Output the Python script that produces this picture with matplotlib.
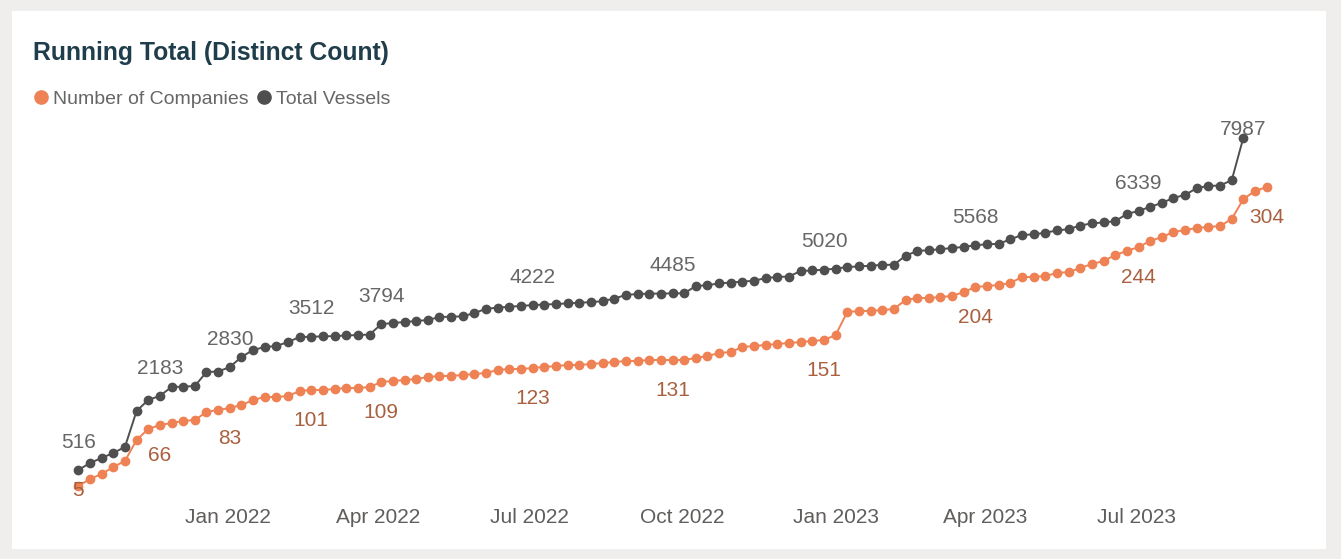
import numpy as np
import pandas as pd
import matplotlib
matplotlib.use('Agg')
import matplotlib.pyplot as plt
from matplotlib.lines import Line2D
from matplotlib.patches import Rectangle

plt.rcParams['font.family'] = ['Liberation Sans', 'DejaVu Sans']

# weekly running totals
weeks = pd.date_range('2021-10-03', periods=103, freq='7D')

companies = [5, 12, 17, 24, 30, 51, 62, 66, 68, 70, 71, 79, 81, 83, 86, 91, 94, 94, 95, 100,
             101, 101, 102, 103, 103, 104, 109, 110, 111, 112, 114, 115, 115, 116, 117, 118, 121, 122, 122, 123,
             124, 125, 126, 126, 127, 128, 129, 130, 130, 131, 131, 131, 131, 133, 135, 138, 139, 144, 145, 146,
             147, 148, 149, 150, 151, 156, 179, 180, 180, 181, 182, 191, 193, 193, 194, 195, 199, 204, 205, 206,
             208, 214, 214, 215, 218, 219, 223, 227, 230, 236, 240, 244, 250, 254, 259, 261, 263, 264, 265, 272,
             292, 300, 304]

vessels = [516, 674, 787, 899, 1034, 1843, 2090, 2183, 2382, 2390, 2404, 2719, 2730, 2830, 3056, 3213, 3281, 3303, 3393, 3506,
           3512, 3520, 3526, 3540, 3550, 3560, 3794, 3820, 3843, 3865, 3888, 3955, 3962, 3970, 4045, 4140, 4165, 4185, 4205, 4222,
           4235, 4245, 4262, 4275, 4290, 4310, 4370, 4450, 4472, 4480, 4482, 4485, 4488, 4650, 4670, 4710, 4730, 4750, 4770, 4830,
           4855, 4865, 4990, 5000, 5020, 5040, 5080, 5090, 5110, 5125, 5130, 5330, 5440, 5455, 5480, 5505, 5530, 5568, 5590, 5600,
           5700, 5800, 5810, 5850, 5900, 5930, 6010, 6060, 6080, 6110, 6270, 6339, 6430, 6520, 6630, 6700, 6850, 6900, 6910, 7030,
           7987]

# which points carry a data label
company_labels = [0, 7, 13, 20, 26, 39, 51, 64, 77, 91, 102]
vessel_labels = [0, 7, 13, 20, 26, 39, 51, 64, 77, 91, 100]

tick_dates = ['2022-01-01', '2022-04-01', '2022-07-01', '2022-10-01', '2023-01-01', '2023-04-01', '2023-07-01']
tick_labels = ['Jan 2022', 'Apr 2022', 'Jul 2022', 'Oct 2022', 'Jan 2023', 'Apr 2023', 'Jul 2023']

orange = '#ee8254'
gray = '#4f4f4f'

W, H = 1341, 559
fig = plt.figure(figsize=(W / 100, H / 100), dpi=100)
fig.patch.set_facecolor('#efeeec')
fig.patches.append(Rectangle((12 / W, 10 / H), 1314 / W, 538 / H, transform=fig.transFigure,
                             facecolor='white', edgecolor='none', zorder=-10))

ax = fig.add_axes([70 / W, 1 - 493 / H, 1220 / W, 373 / H])
ax.set_facecolor('none')
ax2 = ax.twinx()

ax.plot(weeks[:len(vessels)], vessels, color=gray, lw=1.4, marker='o', ms=6, zorder=3)
ax2.plot(weeks[:len(companies)], companies, color=orange, lw=1.4, marker='o', ms=6, zorder=3)

ax.set_ylim(0, 8382)
ax2.set_ylim(-2, 371)
start = pd.Timestamp('2021-10-03')
ax.set_xlim(start - pd.Timedelta(days=5), start + pd.Timedelta(days=728))

for i in vessel_labels:
    off = 6 if i == len(vessels) - 1 else 20
    ax.annotate(str(vessels[i]), (weeks[i], vessels[i]), xytext=(0, off), textcoords='offset points',
                ha='center', va='center', fontsize=15, color='#666666', zorder=5)
for i in company_labels:
    off = -3 if i == 0 else -22
    ax2.annotate(str(companies[i]), (weeks[i], companies[i]), xytext=(0, off), textcoords='offset points',
                 ha='center', va='center', fontsize=15, color='#a8603f', zorder=5)

ax.set_xticks([pd.Timestamp(d) for d in tick_dates])
ax.set_xticklabels(tick_labels)
ax.tick_params(axis='x', length=0, pad=11, labelsize=15, labelcolor='#605e5c')
ax.set_yticks([])
ax2.set_yticks([])
for a in (ax, ax2):
    for s in a.spines.values():
        s.set_visible(False)

fig.text(33 / W, 1 - 60 / H, 'Running Total (Distinct Count)', fontsize=17.8, fontweight='bold',
         color='#1f3d4b', va='baseline')

handles = [Line2D([], [], color=orange, marker='o', ls='none', ms=9.5),
           Line2D([], [], color=gray, marker='o', ls='none', ms=9.5)]
fig.legend(handles, ['Number of Companies', 'Total Vessels'], loc='center left',
           bbox_to_anchor=(35 / W, 1 - 99 / H), ncol=2, frameon=False, fontsize=14,
           handlelength=0.6, handletextpad=0.35, columnspacing=0.45, borderpad=0, borderaxespad=0,
           labelcolor='#666666')

fig.savefig('out.png', dpi=100, facecolor=fig.get_facecolor())
